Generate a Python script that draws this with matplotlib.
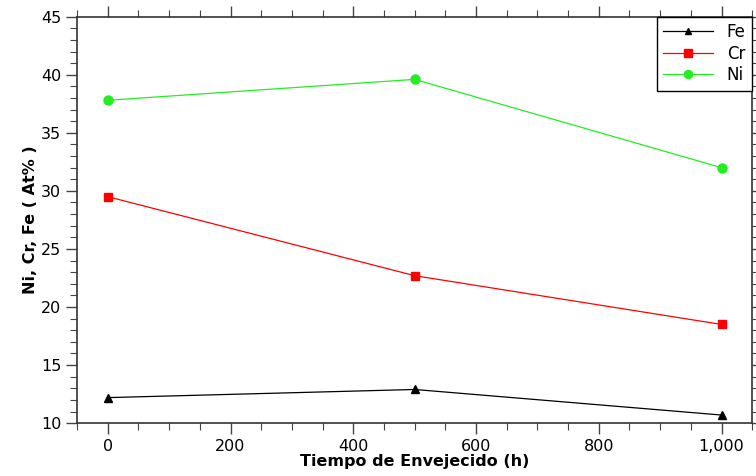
import numpy as np
import matplotlib
matplotlib.use('Agg')
import matplotlib.pyplot as plt
from matplotlib.ticker import MultipleLocator, FuncFormatter

tiempo = [0, 500, 1000]
fe = [12.2, 12.9, 10.7]
cr = [29.5, 22.7, 18.5]
ni = [37.8, 39.6, 32.0]

fig = plt.figure(figsize=(7.56, 4.76), dpi=100)
ax = fig.add_axes([0.102, 0.111, 0.893, 0.854])

ax.plot(tiempo, fe, color='black', lw=0.9, marker='^', ms=5.5, label='Fe')
ax.plot(tiempo, cr, color='#ff0000', lw=0.9, marker='s', ms=6, label='Cr')
ax.plot(tiempo, ni, color='#22ee22', lw=0.9, marker='o', ms=6.5, label='Ni')

ax.set_xlim(-50, 1050)
ax.set_ylim(10, 45)
ax.xaxis.set_major_locator(MultipleLocator(200))
ax.xaxis.set_minor_locator(MultipleLocator(50))
ax.yaxis.set_major_locator(MultipleLocator(5))
ax.yaxis.set_minor_locator(MultipleLocator(1))
ax.xaxis.set_major_formatter(FuncFormatter(lambda v, p: f'{int(v):,}'))

ax.tick_params(which='both', direction='out', top=True, right=True,
               labeltop=False, labelright=False, labelsize=11.5, color='#444444')
ax.tick_params(which='major', length=8, width=1)
ax.tick_params(which='minor', length=5, width=0.8)
for s in ax.spines.values():
    s.set_linewidth(1.2)
    s.set_color('#333333')

ax.set_xlabel('Tiempo de Envejecido (h)', fontsize=11.5, fontweight='bold', labelpad=0)
ax.set_ylabel('Ni, Cr, Fe ( At% )', fontsize=11.5, fontweight='bold', labelpad=2)

leg = ax.legend(loc='upper right', fontsize=12, fancybox=False, framealpha=1,
                edgecolor='black', borderaxespad=0, handlelength=3,
                labelspacing=0.2, markerscale=0.9)
leg.get_frame().set_linewidth(1)

fig.savefig('out.png', dpi=100)
